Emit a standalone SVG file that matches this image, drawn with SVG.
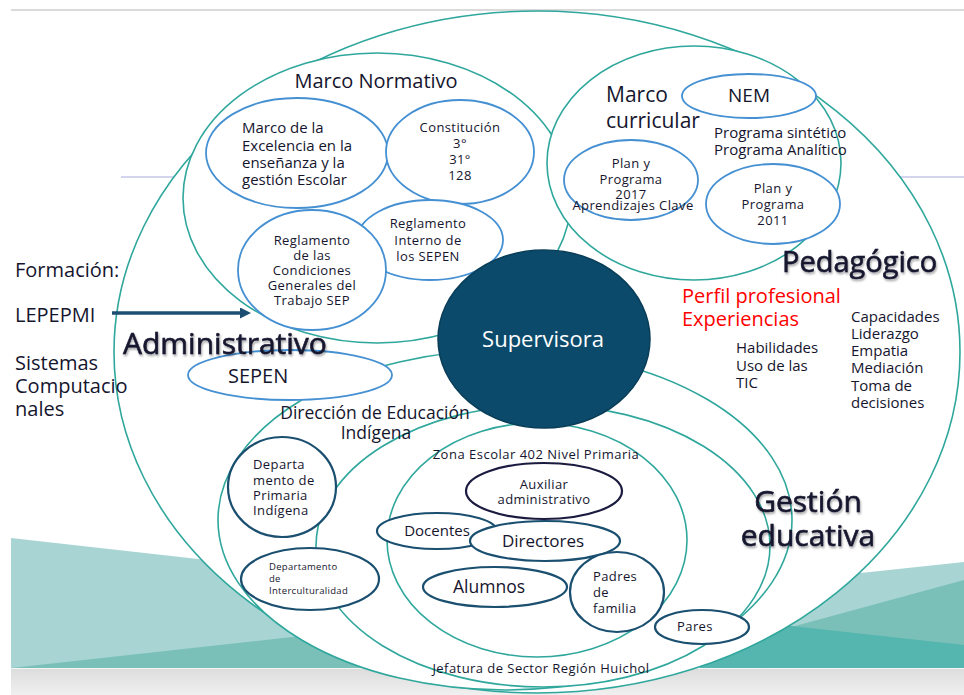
<svg xmlns="http://www.w3.org/2000/svg" width="964" height="695" viewBox="0 0 964 695">
<defs>
<style>
text{font-family:"Open Sans","Liberation Sans",sans-serif;fill:#15152e}
.teal{fill:#fff;stroke:#2fa79c;stroke-width:1.6}
.blue{fill:#fff;stroke:#4590d2;stroke-width:1.8}
.dark{fill:#fff;stroke:#1a4f70;stroke-width:2.2}
.navy{fill:#fff;stroke:#1b1b40;stroke-width:2.2}
.s13{font-size:13px;letter-spacing:0.4px}
.s15{font-size:15px}
.mid{text-anchor:middle}
.big{filter:url(#sh);stroke:#15152e;stroke-width:0.6px}
</style>
<filter id="sh" x="-10%" y="-30%" width="120%" height="160%">
<feDropShadow dx="1" dy="2" stdDeviation="1.3" flood-color="#000" flood-opacity="0.35"/>
</filter>
<linearGradient id="band" x1="0" y1="0" x2="0" y2="1">
<stop offset="0" stop-color="#dcdcdc"/>
<stop offset="1" stop-color="#f0f0f0"/>
</linearGradient>
<marker id="arr" viewBox="0 0 10 10" refX="0" refY="5" markerUnits="userSpaceOnUse" markerWidth="12" markerHeight="11" orient="auto">
<path d="M0,0 L10,5 L0,10 z" fill="#1b4e70"/>
</marker>
</defs>

<g id="background">
<rect width="964" height="695" fill="#fff"/>
<line x1="11" y1="10" x2="964" y2="10" stroke="#dadada" stroke-width="2"/>
<line x1="121" y1="177" x2="964" y2="177" stroke="#a9a9dc" stroke-width="1"/>
<polygon points="11,538 500,593 500,668 11,668" fill="#a8d5d4"/>
<polygon points="11,668 500,614 500,668" fill="#7ac0b9"/>
<polygon points="964,562 700,590 700,668 964,668" fill="#a8d5d4"/>
<polygon points="964,580 700,652 700,668 964,668" fill="#7ac0b9"/>
<polygon points="964,645 700,616 700,668 964,668" fill="#55b5af"/>
<rect x="11" y="668" width="953" height="27" fill="url(#band)"/>
<line x1="11" y1="668.5" x2="964" y2="668.5" stroke="#f4f4f4" stroke-width="1"/>
</g>

<g id="n-pedagogico"><ellipse class="teal" cx="537" cy="352" rx="423" ry="341"/></g>
<g id="n-gestion"><ellipse class="teal" cx="505" cy="520" rx="287" ry="170"/></g>
<g id="n-jefatura"><ellipse class="teal" cx="543" cy="546" rx="227" ry="141"/></g>
<g id="n-zona"><ellipse class="teal" cx="537" cy="540" rx="150" ry="117"/></g>
<g id="n-marco-normativo"><ellipse class="teal" cx="377" cy="198" rx="194" ry="145"/></g>
<g id="n-marco-curricular"><ellipse class="teal" cx="694" cy="163" rx="147" ry="117"/></g>

<g id="n-excelencia">
<ellipse class="blue" cx="297" cy="153" rx="91" ry="55"/>
<text class="s15" x="242" y="133">Marco de la</text>
<text class="s15" x="242" y="150.5">Excelencia en la</text>
<text class="s15" x="242" y="167.5">enseñanza y la</text>
<text class="s15" x="242" y="184.5">gestión Escolar</text>
</g>
<g id="n-constitucion">
<ellipse class="blue" cx="460" cy="152" rx="74" ry="52"/>
<text class="s13 mid" x="460" y="132">Constitución</text>
<text class="s13 mid" x="460" y="148">3°</text>
<text class="s13 mid" x="460" y="164">31°</text>
<text class="s13 mid" x="460" y="180">128</text>
</g>
<g id="n-reglamento-interno">
<ellipse class="blue" cx="430" cy="240" rx="73" ry="40"/>
<text class="s13 mid" x="428" y="228">Reglamento</text>
<text class="s13 mid" x="428" y="245">Interno de</text>
<text class="s13 mid" x="428" y="261">los SEPEN</text>
</g>
<g id="n-reglamento-condiciones">
<ellipse class="blue" cx="312" cy="270" rx="74" ry="60"/>
<text class="s13 mid" x="312" y="245">Reglamento</text>
<text class="s13 mid" x="312" y="260">de las</text>
<text class="s13 mid" x="312" y="275">Condiciones</text>
<text class="s13 mid" x="312" y="290">Generales del</text>
<text class="s13 mid" x="312" y="305">Trabajo SEP</text>
</g>
<g id="n-nem">
<ellipse class="blue" cx="749" cy="96" rx="67" ry="22"/>
<text class="mid" x="749" y="102" font-size="19">NEM</text>
</g>
<g id="n-plan2017">
<ellipse class="blue" cx="631" cy="180" rx="67" ry="40"/>
<text class="s13 mid" x="631" y="168">Plan y</text>
<text class="s13 mid" x="631" y="184">Programa</text>
<text class="s13 mid" x="631" y="199">2017</text>
<text class="s13 mid" x="633" y="210">Aprendizajes Clave</text>
</g>
<g id="n-plan2011">
<ellipse class="blue" cx="773" cy="204" rx="67" ry="40"/>
<text class="s13 mid" x="773" y="193">Plan y</text>
<text class="s13 mid" x="773" y="209">Programa</text>
<text class="s13 mid" x="773" y="225">2011</text>
</g>
<g id="n-sepen">
<ellipse class="blue" cx="290" cy="375" rx="102" ry="25"/>
<text x="228" y="383" font-size="20">SEPEN</text>
</g>

<g id="n-depto-primaria">
<ellipse class="dark" cx="282" cy="487" rx="54" ry="50"/>
<text class="s13" x="253" y="469">Departa</text>
<text class="s13" x="253" y="484.5">mento de</text>
<text class="s13" x="253" y="500">Primaria</text>
<text class="s13" x="253" y="515">Indígena</text>
</g>
<g id="n-depto-intercultural">
<ellipse class="dark" cx="310" cy="579" rx="69" ry="31"/>
<text x="269" y="570" font-size="9.5" letter-spacing="0.3">Departamento</text>
<text x="269" y="582" font-size="9.5" letter-spacing="0.3">de</text>
<text x="269" y="594" font-size="9.5" letter-spacing="0.3">Interculturalidad</text>
</g>
<g id="n-auxiliar">
<ellipse class="navy" cx="544" cy="491" rx="78" ry="28"/>
<text class="s13 mid" x="544" y="489">Auxiliar</text>
<text class="s13 mid" x="544" y="504">administrativo</text>
</g>
<g id="n-docentes">
<ellipse class="dark" cx="437" cy="531" rx="60" ry="18"/>
<text class="mid" x="437" y="536" font-size="15">Docentes</text>
</g>
<g id="n-directores">
<ellipse class="dark" cx="545" cy="541" rx="75" ry="20"/>
<text class="mid" x="543" y="547" font-size="17">Directores</text>
</g>
<g id="n-alumnos">
<ellipse class="dark" cx="495" cy="587" rx="72" ry="20"/>
<text class="mid" x="489" y="593" font-size="17.5">Alumnos</text>
</g>
<g id="n-padres">
<ellipse class="dark" cx="617" cy="592" rx="47" ry="40"/>
<text class="s13" x="593" y="581">Padres</text>
<text class="s13" x="593" y="597">de</text>
<text class="s13" x="593" y="613">familia</text>
</g>
<g id="n-pares">
<ellipse class="dark" cx="702" cy="627" rx="47" ry="17"/>
<text class="s13 mid" x="695" y="631">Pares</text>
</g>

<g id="n-supervisora">
<ellipse cx="544" cy="339" rx="106" ry="89" fill="#0b4a6a" stroke="#093d58" stroke-width="1.5"/>
<text class="mid" x="543" y="347" font-size="22" style="fill:#ffffff">Supervisora</text>
</g>

<g id="labels">
<g id="n-pedagogico-label"><text class="big" x="782" y="272" font-size="29">Pedagógico</text></g>
<g id="n-administrativo-label"><text class="big" x="123" y="354" font-size="30">Administrativo</text></g>
<g id="n-gestion-label">
<text class="big mid" x="808" y="512" font-size="30">Gestión</text>
<text class="big mid" x="808" y="546" font-size="30">educativa</text>
</g>
<g id="n-marco-normativo-label"><text class="mid" x="376" y="88" font-size="20">Marco Normativo</text></g>
<g id="n-marco-curricular-label">
<text x="606" y="102" font-size="21">Marco</text>
<text x="606" y="128" font-size="21">curricular</text>
</g>
<g id="n-programas">
<text class="s15" x="714" y="138">Programa sintético</text>
<text class="s15" x="714" y="155">Programa Analítico</text>
</g>
<g id="n-perfil">
<text x="682" y="303" font-size="20" style="fill:#ff0000">Perfil profesional</text>
<text x="682" y="326" font-size="20" style="fill:#ff0000">Experiencias</text>
</g>
<g id="n-habilidades">
<text class="s15" x="736" y="353">Habilidades</text>
<text class="s15" x="736" y="371">Uso de las</text>
<text class="s15" x="736" y="388">TIC</text>
</g>
<g id="n-capacidades">
<text class="s15" x="851" y="322">Capacidades</text>
<text class="s15" x="851" y="339">Liderazgo</text>
<text class="s15" x="851" y="356">Empatia</text>
<text class="s15" x="851" y="373">Mediación</text>
<text class="s15" x="851" y="391">Toma de</text>
<text class="s15" x="851" y="408">decisiones</text>
</g>
<g id="n-direccion-label">
<text class="mid" x="375" y="419" font-size="17.5">Dirección de Educación</text>
<text class="mid" x="376" y="439" font-size="17.5">Indígena</text>
</g>
<g id="n-zona-label"><text class="mid" x="536" y="459" font-size="13" letter-spacing="0.5">Zona Escolar 402 Nivel Primaria</text></g>
<g id="n-jefatura-label"><text class="mid" x="541" y="673" font-size="13" letter-spacing="0.45">Jefatura de Sector Región Huichol</text></g>
<g id="n-formacion">
<text x="15" y="277" font-size="20">Formación:</text>
<text x="15" y="322" font-size="20">LEPEPMI</text>
<text x="15" y="370" font-size="20">Sistemas</text>
<text x="15" y="393" font-size="20">Computacio</text>
<text x="15" y="416" font-size="20">nales</text>
</g>
</g>

<g id="connectors">
<line x1="112" y1="313" x2="240" y2="313" stroke="#1b4e70" stroke-width="3.5" marker-end="url(#arr)"/>
</g>
</svg>
